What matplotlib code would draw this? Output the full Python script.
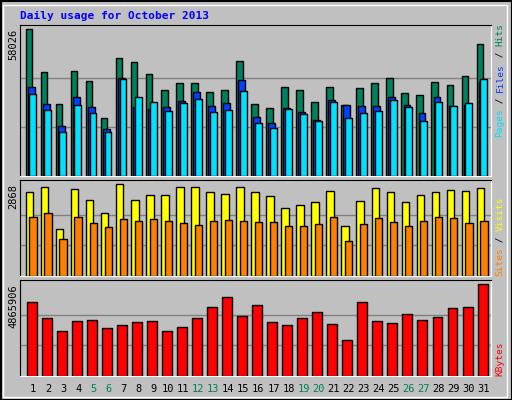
import matplotlib.pyplot as plt
from matplotlib.patches import Rectangle

days = list(range(1, 32))
weekend = [5, 6, 12, 13, 19, 20, 26, 27]

# values
hits = [58026, 41100, 28470, 41490, 37540, 23080, 46490, 44910, 40180, 33860, 36630, 36630,
        33070, 33860, 45300, 28470, 26890, 35050, 33860, 29130, 35050, 28080, 34660, 36630,
        38600, 32680, 31890, 37020, 35840, 39390, 52100]
files = [35050, 28470, 19780, 31240, 27290, 18600, 38600, 27290, 26500, 27290, 29660, 33070,
         27680, 28870, 37810, 23160, 20830, 26890, 25310, 22160, 30050, 28080, 27680, 27680,
         31240, 28080, 24920, 31240, 27680, 28080, 37020]
pages = [32280, 26110, 17420, 28080, 24920, 17420, 38210, 31240, 29260, 25710, 28870, 30450,
         25310, 26110, 33460, 20830, 18860, 26500, 24520, 21760, 29260, 23080, 24920, 25710,
         30050, 27290, 21760, 29260, 27680, 28870, 38210]
visits = [2610, 2770, 1460, 2700, 2360, 1950, 2868, 2360, 2510, 2510, 2770, 2770, 2610, 2550,
          2770, 2610, 2490, 2110, 2200, 2300, 2640, 1550, 2330, 2730, 2610, 2300, 2510, 2610,
          2680, 2640, 2730]
sites = [1840, 1970, 1160, 1840, 1650, 1530, 1780, 1720, 1780, 1720, 1650, 1590, 1720, 1750,
         1720, 1690, 1690, 1560, 1560, 1620, 1840, 1090, 1620, 1810, 1690, 1560, 1720, 1840,
         1810, 1650, 1720]
kbytes = [3900000, 3060000, 2370000, 2900000, 2950000, 2530000, 2690000, 2850000, 2900000,
          2370000, 2580000, 3060000, 3640000, 4170000, 3160000, 3740000, 2850000, 2690000,
          3060000, 3370000, 2740000, 1900000, 3900000, 2900000, 2790000, 3270000, 2950000,
          3110000, 3580000, 3640000, 4865906]

BG = "#c0c0c0"
W, H = 512, 400
fig = plt.figure(figsize=(5.12, 4.0), dpi=100, facecolor=BG)
mono = "DejaVu Sans Mono"


def px_axes(x0, y0, x1, y1):
    return fig.add_axes([x0 / W, 1 - y1 / H, (x1 - x0) / W, (y1 - y0) / H])


def panel(y0, y1, ymax, top_px):
    ax = px_axes(20, y0, 491, y1)
    ax.set_facecolor(BG)
    ax.set_xlim(0.135, 31.47)
    ax.set_ylim(0, ymax * (y1 - y0) / (y1 - top_px))
    for g in (ymax / 3, ymax * 2 / 3):
        ax.axhline(g, color="#808080", lw=1, zorder=0)
    ax.set_xticks([])
    ax.set_yticks([])
    for s in ("left", "top"):
        ax.spines[s].set_color("black")
    for s in ("right", "bottom"):
        ax.spines[s].set_color("white")
    return ax


bk = dict(edgecolor="black", linewidth=1)

ax1 = panel(25, 176, max(hits), 29)
ax1.bar([d - 0.27 for d in days], hits, width=0.44, color="#00805c", **bk)
ax1.bar([d - 0.12 for d in days], files, width=0.46, color="#0040ff", **bk)
ax1.bar([d - 0.01 for d in days], pages, width=0.46, color="#00e0ff", **bk)

ax2 = panel(180, 276, max(visits), 184)
ax2.bar([d - 0.23 for d in days], visits, width=0.5, color="#ffff00", **bk)
ax2.bar([d + 0.0 for d in days], sites, width=0.48, color="#ff8000", **bk)

ax3 = panel(280, 376, max(kbytes), 284)
ax3.bar([d - 0.09 for d in days], kbytes, width=0.66, color="#ff0000", **bk)

# day labels
for d in days:
    ax3.text(d, -0.14, str(d), transform=ax3.get_xaxis_transform(), ha="center", va="center",
             fontsize=7.5, family=mono, color="#00805c" if d in weekend else "black")

# max labels on the left
for y, val in ((29, max(hits)), (184, max(visits)), (284, max(kbytes))):
    fig.text(13 / W, 1 - y / H, str(val), rotation=90, ha="center", va="top",
             fontsize=7.5, family=mono)

# right-side legends, stacked pieces
FS = 6.8
STEP = 0.602 * FS * 100 / 72


def side_label(parts, bottom_px):
    pos = bottom_px
    for txt, col in parts:
        n = len(txt)
        # centre each piece in its own slot so spaces are kept
        fig.text(500 / W, 1 - (pos - STEP * n / 2) / H, txt, rotation=90, ha="center",
                 va="center", fontsize=FS, family=mono, color=col)
        pos -= STEP * n

side_label([("Pages", "#00e0ff"), (" / ", "black"), ("Files", "#0040ff"),
            (" / ", "black"), ("Hits", "#00805c")], 137)
side_label([("Sites", "#ff8000"), (" / ", "black"), ("Visits", "#ffff00")], 276)
side_label([("KBytes", "#ff0000")], 376)

fig.text(20 / W, 1 - 16 / H, "Daily usage for October 2013", ha="left", va="center",
         fontsize=8, family=mono, fontweight="bold", color="#0000ff")

# outer frame
fig.patches.append(Rectangle((0.5 / W, 0.5 / H), (W - 1) / W, (H - 1) / H,
                             transform=fig.transFigure, fill=False, ec="black", lw=1.5))
fig.patches.append(Rectangle((3 / W, 3 / H), (W - 8) / W, (H - 8) / H,
                             transform=fig.transFigure, fill=False, ec="white", lw=1))

fig.savefig("out.png", dpi=100, facecolor=BG)
